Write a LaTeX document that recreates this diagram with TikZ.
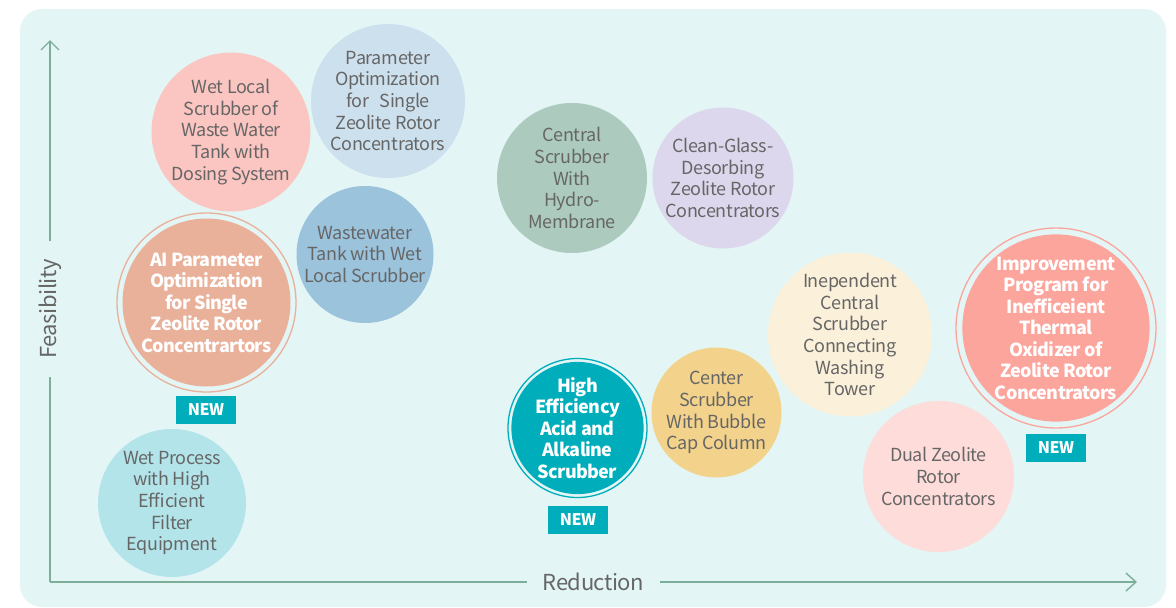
\documentclass[tikz,border=0pt]{standalone}
\usepackage{fontspec}
\newfontfamily\srcfont[LetterSpace=-2]{Noto Sans CJK SC}
\newfontfamily\hotfont[LetterSpace=-3.5]{Noto Sans CJK SC}
\usetikzlibrary{arrows.meta}
\definecolor{bgc}{HTML}{E3F5F5}
\definecolor{axisc}{HTML}{7DAF98}
\definecolor{txtc}{HTML}{666666}
\definecolor{cPinkA}{HTML}{FBC5C1}
\definecolor{cLightBlue}{HTML}{CDE0ED}
\definecolor{cBlue}{HTML}{9BC3DC}
\definecolor{cSalmon}{HTML}{E9B09A}
\definecolor{cCyan}{HTML}{B3E4EA}
\definecolor{cGreen}{HTML}{ACCABD}
\definecolor{cLav}{HTML}{DCD7EC}
\definecolor{cTeal}{HTML}{00AEBB}
\definecolor{cYellow}{HTML}{F3D38B}
\definecolor{cCream}{HTML}{FBF0DA}
\definecolor{cCoral}{HTML}{FCA59D}
\definecolor{cPinkB}{HTML}{FDDCDA}
\tikzset{
  bubble/.style={circle, minimum size=#1, inner sep=0pt, align=center, text=txtc,
    font=\srcfont\fontsize{18}{21.7}\selectfont},
  hot/.style={text=white, font=\hotfont\bfseries\fontsize{18}{21.5}\selectfont},
  ring/.style={circle, draw=#1, line width=1.3pt, inner sep=0pt},
  newtag/.style={fill=cTeal, text=white, minimum width=60pt, minimum height=28pt, inner sep=0pt,
    font=\hotfont\bfseries\fontsize{16}{18}\selectfont},
  axis/.style={draw=axisc, line width=1.4pt},
  axlab/.style={text=txtc, font=\srcfont\fontsize{22}{24}\selectfont, inner ysep=0pt},
}
\begin{document}
\begin{tikzpicture}[x=1pt,y=-1pt]
\useasboundingbox (0,0) rectangle (1176,608);
\fill[bgc, rounded corners=22pt] (20,9) rectangle (1166,607);

% axes
\coordinate (origin) at (50,582);
\coordinate (ytop) at (50,40);
\coordinate (xend) at (1137,582);
\node[axlab, rotate=90, inner xsep=18pt] (ylab) at (50,309) {Feasibility};
\node[axlab, inner xsep=16pt] (xlab) at (593.5,582) {Reduction};
\draw[axis] (origin) -- (ylab.west);
\draw[axis, -{Straight Barb[length=9pt,width=18pt]}] (ylab.east) -- (ytop);
\draw[axis] (origin) -- (xlab.west);
\draw[axis, -{Straight Barb[length=10pt,width=18pt]}] (xlab.east) -- (xend);

% bubbles
\node[bubble=155pt, fill=cPinkA] (wetlocal) at (231,132) {Wet Local\\Scrubber of\\Waste Water\\Tank with\\Dosing System};
\node[bubble=154pt, fill=cLightBlue] (paramopt) at (388,101) {Parameter\\Optimization\\for\hspace{0.6em}Single\\Zeolite Rotor\\Concentrators};
\node[bubble=137pt, fill=cBlue] (wastewater) at (365,254.5) {Wastewater\\Tank with Wet\\Local Scrubber};
\node[ring=cSalmon, minimum size=179pt] (airing) at (206.5,302.5) {};
\node[bubble=168pt, fill=cSalmon, hot] (ai) at (206.5,302.5) {AI Parameter\\Optimization\\for Single\\Zeolite Rotor\\Concentrartors};
\node[newtag] (new1) at (206,410) {NEW};
\node[bubble=148pt, fill=cCyan] (wetproc) at (172,503) {Wet Process\\with High\\Efficient\\Filter\\Equipment};
\node[bubble=150pt, fill=cGreen] (central) at (572,178) {Central\\Scrubber\\With\\Hydro-\\Membrane};
\node[bubble=141pt, fill=cLav] (cleanglass) at (723,178) {Clean-Glass-\\Desorbing\\Zeolite Rotor\\Concentrators};
\node[ring=cTeal, minimum size=139pt] (hering) at (577.5,428) {};
\node[bubble=129pt, fill=cTeal, hot] (higheff) at (577.5,428) {High\\Efficiency\\Acid and\\Alkaline\\Scrubber};
\node[newtag] (new2) at (578,520) {NEW};
\node[bubble=130pt, fill=cYellow] (bubblecap) at (716.5,412.5) {Center\\Scrubber\\With Bubble\\Cap Column};
\node[bubble=164pt, fill=cCream] (indep) at (850,334.5) {Inependent\\Central\\Scrubber\\Connecting\\Washing\\Tower};
\node[ring=cCoral, minimum size=200pt] (imring) at (1056,328) {};
\node[bubble=187pt, fill=cCoral, hot] (improve) at (1056,328) {Improvement\\Program for\\Inefficeient\\Thermal\\Oxidizer of\\Zeolite Rotor\\Concentrators};
\node[newtag] (new3) at (1056,448) {NEW};
\node[bubble=151pt, fill=cPinkB] (dual) at (938.5,476.5) {Dual Zeolite\\Rotor\\Concentrators};
\end{tikzpicture}
\end{document}
